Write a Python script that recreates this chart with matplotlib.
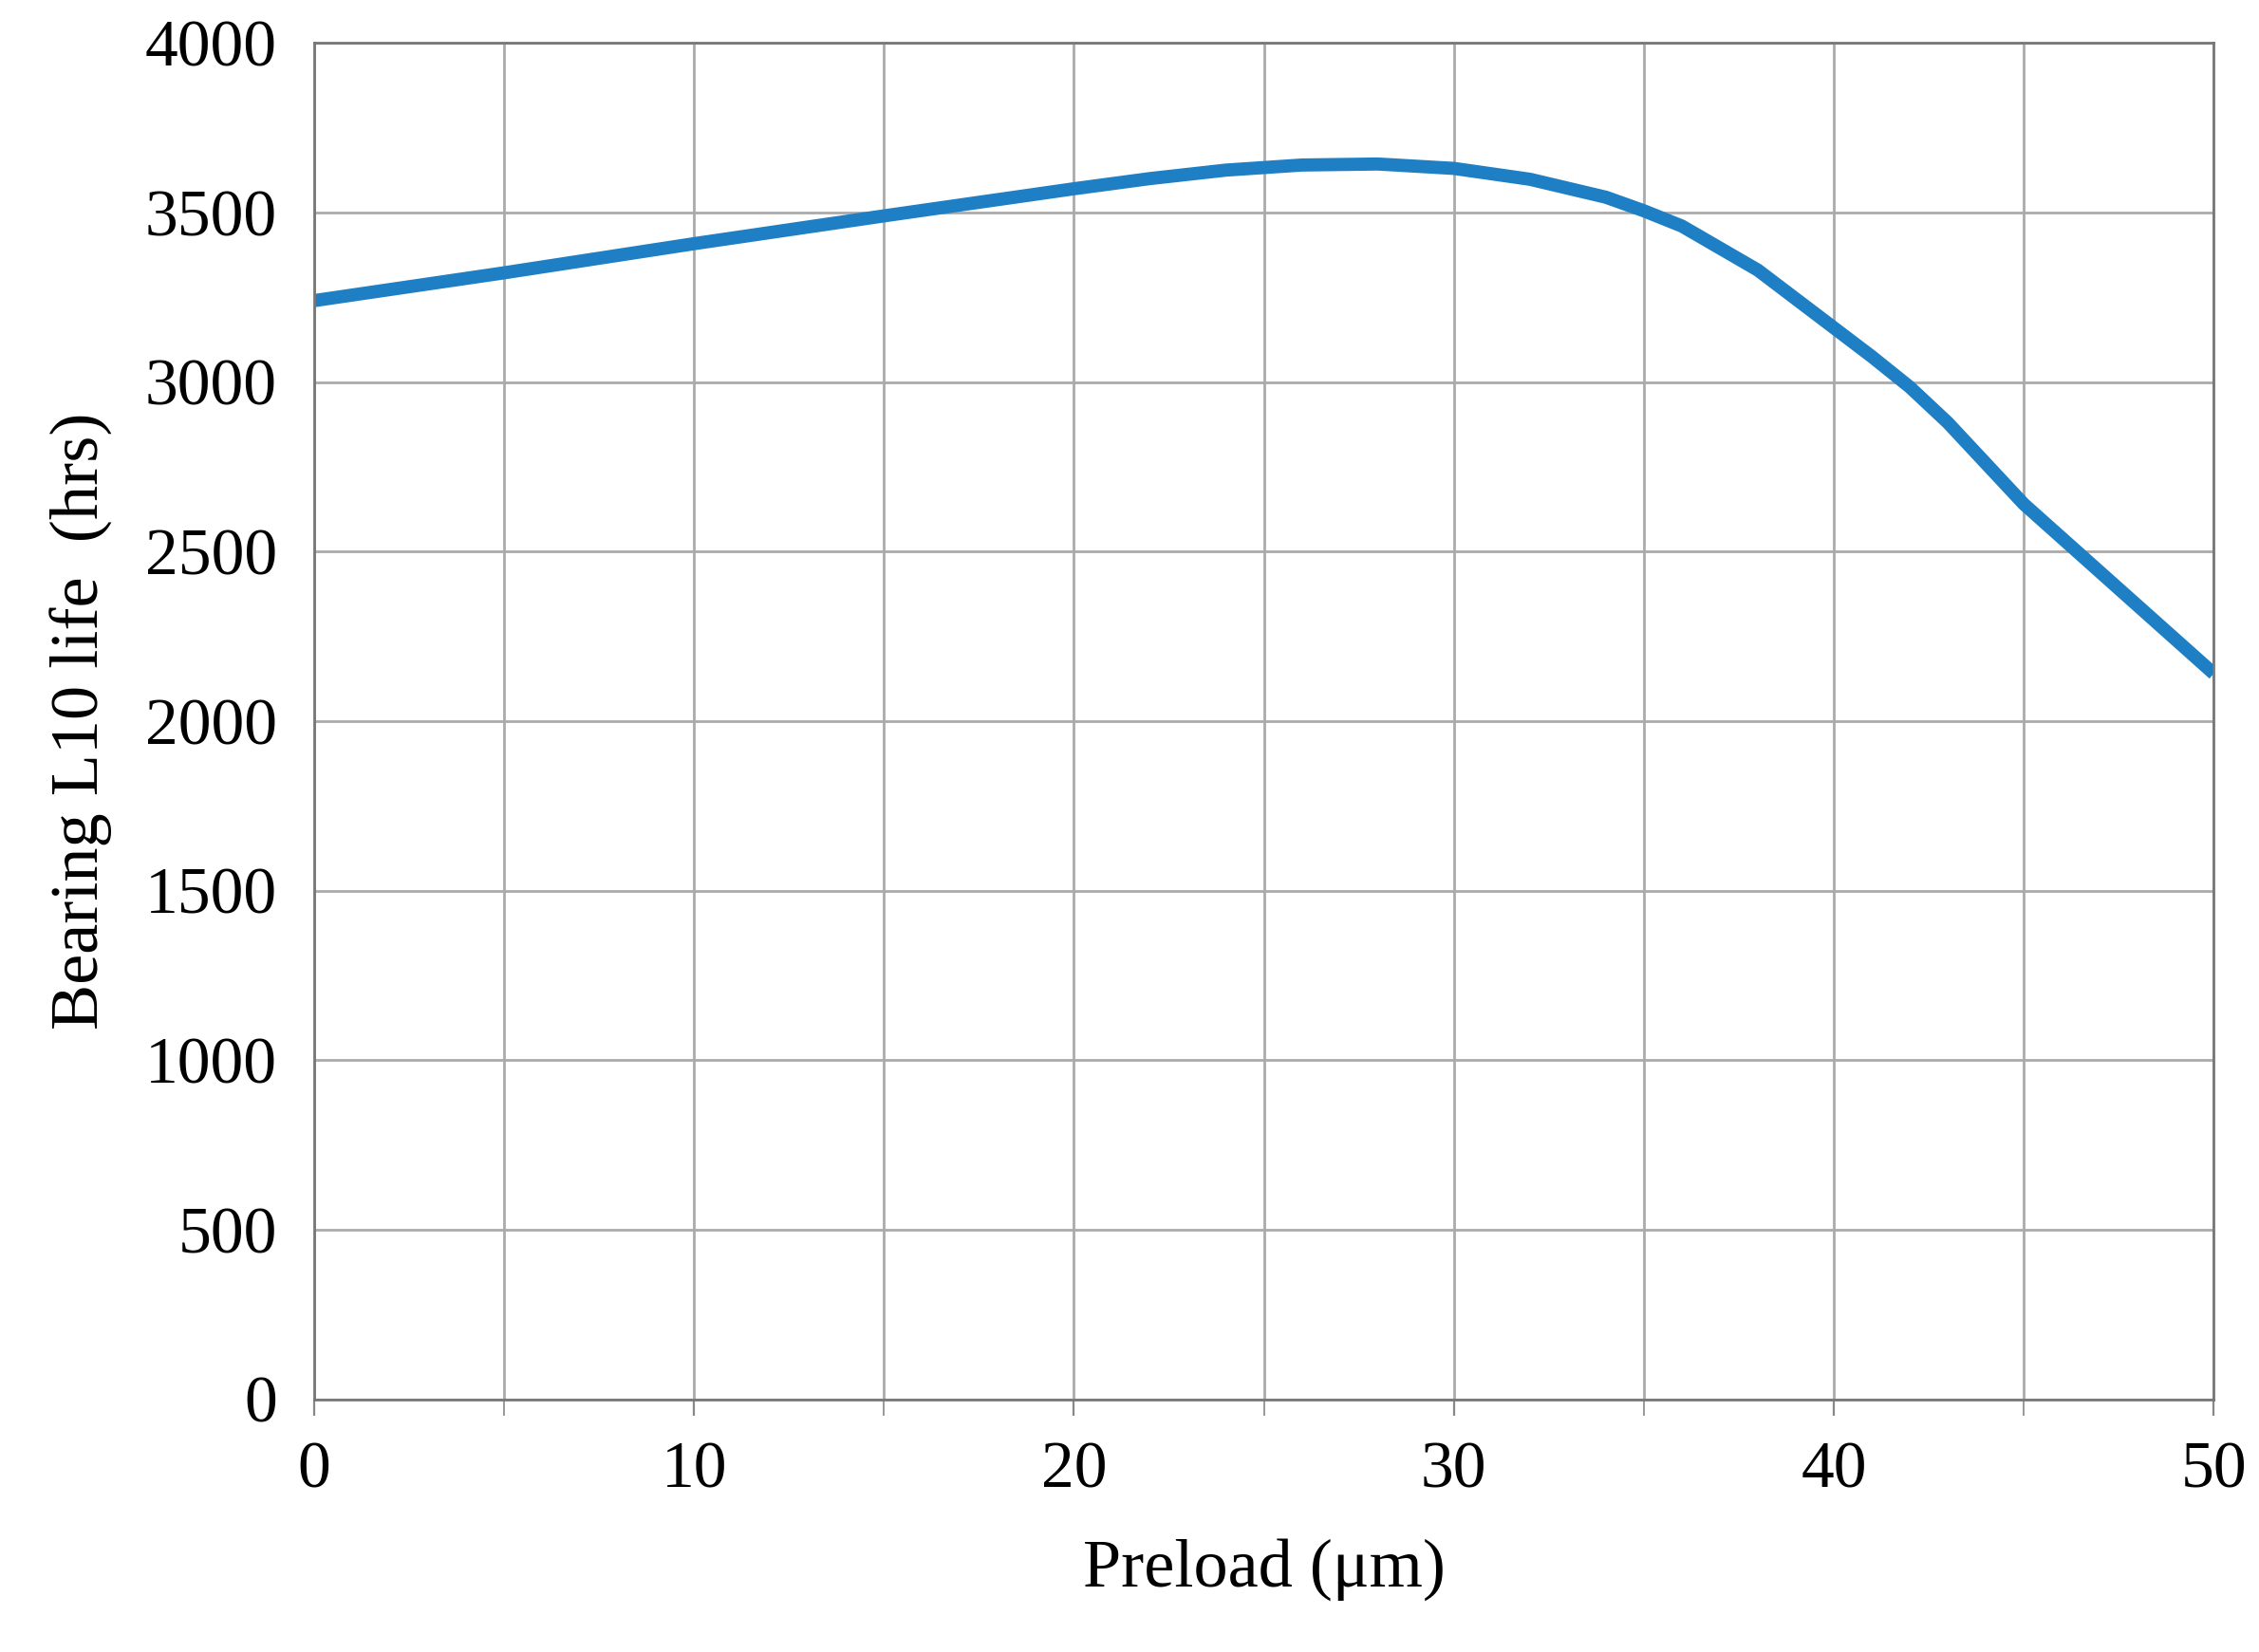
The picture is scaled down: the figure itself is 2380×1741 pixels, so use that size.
import matplotlib
matplotlib.use("Agg")
import matplotlib.pyplot as plt
import numpy as np

preload = [0, 5, 10, 15, 20, 22, 24, 26, 28, 30, 32, 34, 35, 36, 38, 40, 41, 42, 43, 45, 47, 50]
life = [3240, 3322, 3408, 3490, 3570, 3600, 3625, 3640, 3643, 3630, 3598, 3545, 3505, 3460, 3330, 3160, 3075, 2985, 2880, 2640, 2440, 2140]

plt.rcParams['font.family'] = ['Liberation Serif', 'DejaVu Serif']
fig = plt.figure(figsize=(11.9, 8.705), dpi=200)
ax = fig.add_axes([0.139, 0.153, 0.841, 0.821])
ax.plot(preload, life, color='#1f7fc4', lw=5.0, solid_capstyle='butt', solid_joinstyle='round')
ax.set_xlim(0, 50)
ax.set_ylim(0, 4000)
ax.set_xticks(np.arange(0, 51, 10))
ax.set_xticks(np.arange(0, 51, 5), minor=True)
ax.set_yticks(np.arange(0, 4001, 500))
ax.grid(True, which='both', color='#aaaaaa', lw=1.0)
ax.tick_params(axis='y', length=0, labelsize=25, pad=14)
ax.tick_params(axis='x', which='both', length=6, color='#888888', labelsize=25, pad=10)
for s in ax.spines.values():
    s.set_color('#777777'); s.set_linewidth(1.0)
ax.set_xlabel('Preload (μm)', fontsize=26, labelpad=14)
ax.set_ylabel('Bearing L10 life  (hrs)', fontsize=26, labelpad=12)
fig.savefig('out.png', dpi=200)
